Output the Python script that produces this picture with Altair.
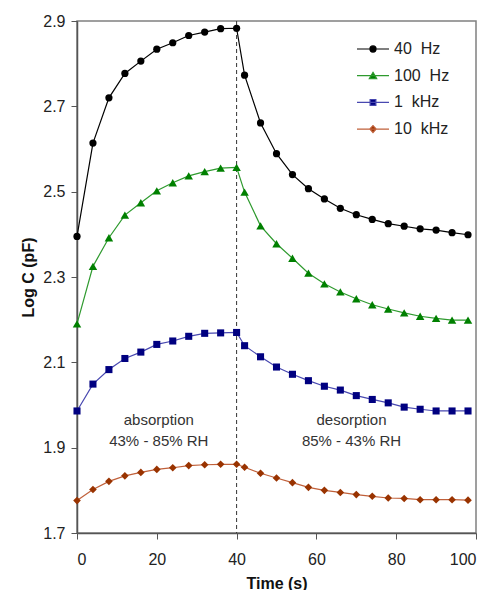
import altair as alt
import pandas as pd

times = [0, 4, 8, 12, 16, 20, 24, 28, 32, 36, 40, 42, 46, 50, 54, 58, 62, 66, 70, 74, 78, 82, 86, 90, 94, 98]

hz40 = [2.395, 2.614, 2.720, 2.777, 2.806, 2.834, 2.849, 2.866, 2.874, 2.882, 2.883,
        2.773, 2.661, 2.589, 2.540, 2.507, 2.483, 2.461, 2.446, 2.435, 2.425, 2.419, 2.413, 2.410, 2.404, 2.399]
hz100 = [2.190, 2.325, 2.392, 2.445, 2.474, 2.502, 2.521, 2.537, 2.547, 2.555, 2.557,
         2.499, 2.420, 2.378, 2.344, 2.309, 2.284, 2.265, 2.249, 2.235, 2.225, 2.216, 2.208, 2.203, 2.199, 2.199]
khz1 = [1.986, 2.049, 2.083, 2.109, 2.124, 2.142, 2.150, 2.161, 2.168, 2.169, 2.170,
        2.139, 2.113, 2.089, 2.072, 2.057, 2.044, 2.035, 2.022, 2.013, 2.005, 1.995, 1.990, 1.986, 1.986, 1.986]
khz10 = [1.776, 1.802, 1.821, 1.834, 1.842, 1.849, 1.853, 1.858, 1.860, 1.861, 1.861,
         1.854, 1.840, 1.829, 1.818, 1.807, 1.800, 1.795, 1.790, 1.786, 1.782, 1.781, 1.778, 1.778, 1.778, 1.777]

series_names = ["40\u00a0\u00a0Hz", "100\u00a0\u00a0Hz", "1\u00a0\u00a0kHz", "10\u00a0\u00a0kHz"]
series_values = [hz40, hz100, khz1, khz10]

line_colors = ["#000000", "#2e9a2e", "#4848b0", "#c0603a"]
marker_colors = ["#000000", "#008000", "#000080", "#993300"]
marker_shapes = ["circle", "triangle-up", "square", "diamond"]
marker_sizes = [52, 72, 50, 58]

# legend symbols: a short line with the series marker in the middle (unit coordinates)
legend_symbols = [
    "M-1,0H1M-0.19,0A0.19,0.19 0 1,0 0.19,0A0.19,0.19 0 1,0 -0.19,0Z",
    "M-1,0H1M0,-0.21L0.23,0.18L-0.23,0.18Z",
    "M-1,0H1M-0.18,-0.18H0.18V0.18H-0.18Z",
    "M-1,0H1M0,-0.22L0.2,0L0,0.22L-0.2,0Z",
]

divider_time = [40]

ann_x = [20.5, 68.8]
ann_y = [1.965, 1.965]
ann_text = [["absorption", "43% - 85% RH"], ["desorption", "85% - 43% RH"]]

x_ticks = [0, 20, 40, 60, 80, 100]
y_ticks = [1.7, 1.9, 2.1, 2.3, 2.5, 2.7, 2.9]

rows = []
for name, vals in zip(series_names, series_values):
    for t, v in zip(times, vals):
        rows.append({"time": t, "logc": v, "series": name})
df = pd.DataFrame(rows)

ann_df = pd.DataFrame({"x": ann_x, "y": ann_y, "text": ann_text})
div_df = pd.DataFrame({"t": divider_time})

FONT = "Liberation Sans"

x_enc = alt.X("time:Q", scale=alt.Scale(domain=[0, 100], nice=False),
              axis=alt.Axis(values=x_ticks, title="Time (s)", grid=False))
y_enc = alt.Y("logc:Q", scale=alt.Scale(domain=[1.7, 2.9], nice=False, zero=False),
              axis=alt.Axis(values=y_ticks, format=".1f", title="Log C (pF)", grid=False))

base = alt.Chart(df)

stroke_scale = alt.Scale(domain=series_names, range=line_colors)
fill_scale = alt.Scale(domain=series_names, range=marker_colors)

legend_spec = alt.Legend(orient="none", legendX=279, legendY=20, title=None,
                         symbolSize=1024, symbolStrokeWidth=1.2,
                         labelOffset=4, labelFontSize=16, labelFont=FONT,
                         labelColor="#222222", clipHeight=16, rowPadding=10.7,
                         padding=0)

lines = base.mark_line(strokeWidth=1.2).encode(
    x=x_enc, y=y_enc,
    stroke=alt.Stroke("series:N", scale=stroke_scale, legend=legend_spec),
)

point_layers = []
for name, shp, sz in zip(series_names, marker_shapes, marker_sizes):
    point_layers.append(
        base.transform_filter(alt.datum.series == name)
        .mark_point(filled=True, opacity=1, strokeWidth=0, shape=shp, size=sz)
        .encode(x=x_enc, y=y_enc,
                fill=alt.Fill("series:N", scale=fill_scale, legend=legend_spec))
    )

legend_layer = base.transform_filter("false").mark_point(filled=True, opacity=1).encode(
    x=x_enc, y=y_enc,
    stroke=alt.Stroke("series:N", scale=stroke_scale, legend=legend_spec),
    fill=alt.Fill("series:N", scale=fill_scale, legend=legend_spec),
    shape=alt.Shape("series:N", scale=alt.Scale(domain=series_names, range=legend_symbols),
                    legend=legend_spec),
)

divider = alt.Chart(div_df).mark_rule(color="#333333", strokeDash=[4, 3], strokeWidth=1).encode(
    x=alt.X("t:Q")
)

annotations = alt.Chart(ann_df).mark_text(font=FONT, fontSize=15, color="#333333",
                                          lineHeight=21, baseline="middle").encode(
    x="x:Q", y="y:Q", text="text"
)

chart = alt.layer(divider, lines, *point_layers, legend_layer, annotations).properties(
    width=399, height=512,
    padding={"left": 12, "top": 5, "right": 5, "bottom": 0},
).configure_view(
    stroke="#808080", strokeWidth=1.5
).configure_axis(
    labelFont=FONT, labelFontSize=16, labelColor="#222222",
    titleFont=FONT, titleFontSize=16, titleFontWeight="bold", titleColor="#111111",
    domainColor="#555555", domainWidth=1.5, tickColor="#555555", tickSize=6,
    labelPadding=6,
).configure_axisY(
    titlePadding=6
).configure_axisX(
    labelPadding=12, titlePadding=8
)

chart.save("out.html", embed_options={"renderer": "svg", "actions": False})
